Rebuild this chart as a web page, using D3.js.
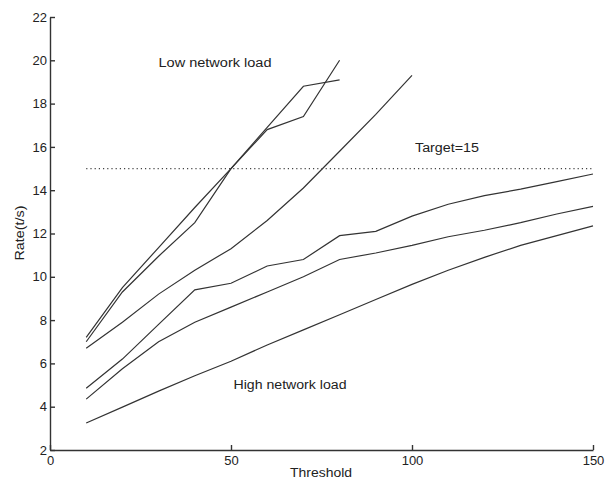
<!DOCTYPE html>
<html>
<head>
<meta charset="utf-8">
<script src="https://cdn.jsdelivr.net/npm/d3@7"></script>
<style>
  body { margin: 0; background: #fff; }
  svg { display: block; font-family: "Liberation Sans", Arial, sans-serif; }
  .axis path, .axis line { stroke: #333; stroke-width: 1.4; }
  .axis text { fill: #222; font-size: 13px; }
  .series { fill: none; stroke: #333; stroke-width: 1.2; }
</style>
</head>
<body>
<div id="chart"></div>
<script>
// thresholds
const lowX  = [10, 20, 30, 40, 50, 60, 70, 80];
const midX  = [10, 20, 30, 40, 50, 60, 70, 80, 90, 100];
const highX = [10, 20, 30, 40, 50, 60, 70, 80, 90, 100, 110, 120, 130, 140, 150];

// rates (t/s)
const lowA = [7.2, 9.5, 11.35, 13.2, 15.0, 16.8, 17.4, 20.0];
const lowB = [7.0, 9.3, 10.95, 12.5, 15.0, 16.9, 18.8, 19.1];
const midC = [6.7, 7.9, 9.2, 10.3, 11.3, 12.6, 14.1, 15.8, 17.5, 19.3];
const highD = [4.85, 6.2, 7.8, 9.4, 9.7, 10.5, 10.8, 11.9, 12.1, 12.8, 13.35, 13.75, 14.05, 14.4, 14.75];
const highE = [4.35, 5.75, 7.0, 7.9, 8.6, 9.3, 10.0, 10.8, 11.1, 11.45, 11.85, 12.15, 12.5, 12.9, 13.25];
const highF = [3.25, 3.98, 4.72, 5.43, 6.1, 6.85, 7.55, 8.25, 8.95, 9.65, 10.3, 10.9, 11.45, 11.9, 12.35];

const targetX = [10, 150];
const target  = 15;

const xTicks = [0, 50, 100, 150];
const yTicks = [2, 4, 6, 8, 10, 12, 14, 16, 18, 20, 22];

const W = 606, H = 481;

const svg = d3.select('#chart')
  .append('svg')
  .attr('width', W)
  .attr('height', H);

const x = d3.scaleLinear().domain([0, 150]).range([50, 593]);
const y = d3.scaleLinear().domain([2, 22]).range([450, 17]);

svg.append('g')
  .attr('class', 'axis')
  .attr('transform', 'translate(0,450)')
  .call(d3.axisBottom(x).tickValues(xTicks).tickSizeInner(-5).tickSizeOuter(0).tickPadding(6));

svg.append('g')
  .attr('class', 'axis')
  .attr('transform', 'translate(50,0)')
  .call(d3.axisLeft(y).tickValues(yTicks).tickSizeInner(-5).tickSizeOuter(0).tickPadding(3));

const line = d3.line().x(d => x(d[0])).y(d => y(d[1]));

const series = [
  [lowX, lowA], [lowX, lowB], [midX, midC],
  [highX, highD], [highX, highE], [highX, highF]
];

svg.selectAll('.series')
  .data(series)
  .join('path')
  .attr('class', 'series')
  .attr('d', ([xs, ys]) => line(xs.map((v, i) => [v, ys[i]])));

svg.append('path')
  .attr('fill', 'none')
  .attr('stroke', '#444')
  .attr('stroke-width', 1.2)
  .attr('stroke-dasharray', '1.2,3')
  .attr('d', line(targetX.map(v => [v, target])));

// annotations
const notes = [
  { text: 'Low network load',  x: 215, y: 67,  len: 113 },
  { text: 'Target=15',         x: 447, y: 152, len: 64 },
  { text: 'High network load', x: 290, y: 389, len: 113 }
];

svg.selectAll('.note')
  .data(notes)
  .join('text')
  .attr('class', 'note')
  .attr('x', d => d.x)
  .attr('y', d => d.y)
  .attr('text-anchor', 'middle')
  .attr('font-size', 12)
  .attr('fill', '#222')
  .attr('textLength', d => d.len)
  .attr('lengthAdjust', 'spacingAndGlyphs')
  .text(d => d.text);

svg.append('text')
  .attr('x', 321)
  .attr('y', 477)
  .attr('text-anchor', 'middle')
  .attr('font-size', 12)
  .attr('fill', '#222')
  .attr('textLength', 62)
  .attr('lengthAdjust', 'spacingAndGlyphs')
  .text('Threshold');

svg.append('text')
  .attr('transform', 'translate(24,233) rotate(-90)')
  .attr('text-anchor', 'middle')
  .attr('font-size', 12)
  .attr('fill', '#222')
  .attr('textLength', 55)
  .attr('lengthAdjust', 'spacingAndGlyphs')
  .text('Rate(t/s)');
</script>
</body>
</html>
